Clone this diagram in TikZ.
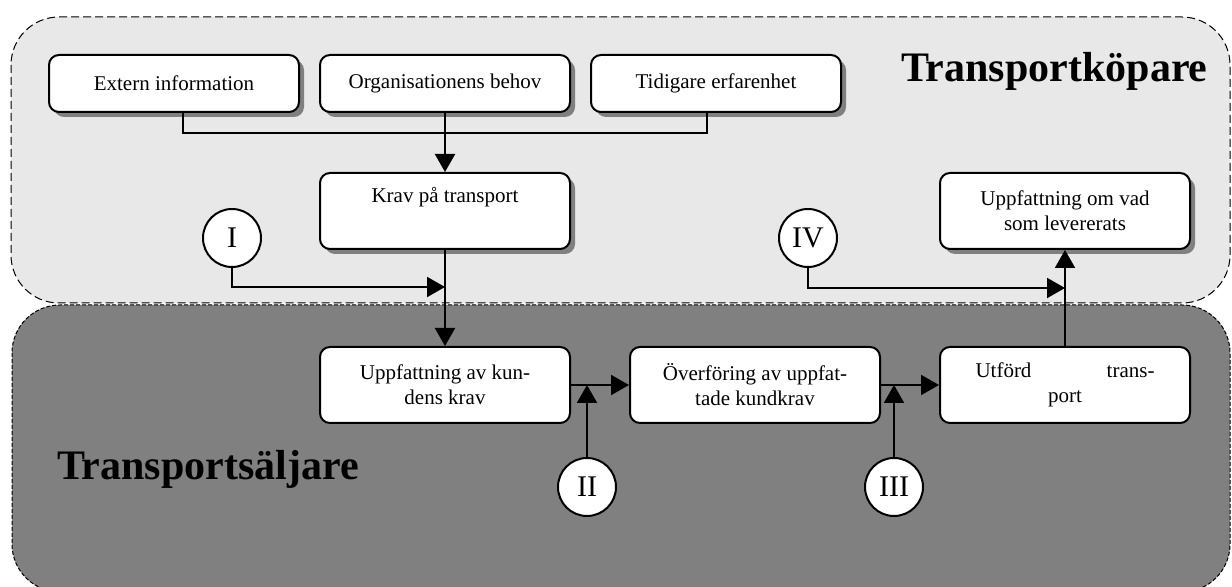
\documentclass[tikz,border=0pt]{standalone}
\usepackage{fontspec}
\setmainfont{Liberation Serif}
\usetikzlibrary{
    positioning,
    arrows.meta,
    shadows
}
\definecolor{LightBand}{RGB}{232,232,232}
\definecolor{DarkBand}{RGB}{128,128,128}

\begin{document}
\begin{tikzpicture}[x=0.5pt, y=-0.5pt,
    band/.style={draw, dash pattern=on 4pt off 2pt, line width=0.5pt, rounded corners=24pt},
    factor/.style={rectangle, draw, line width=1pt, rounded corners=5pt, fill=white, minimum width=125pt, minimum height=28.5pt, align=center, font=\fontsize{10.5}{12.5}\selectfont, drop shadow={shadow xshift=2.5pt, shadow yshift=-2.5pt, fill=DarkBand, opacity=1}},
    stage/.style={factor, minimum height=38pt},
    phase/.style={circle, draw, line width=1pt, fill=white, minimum size=29pt, inner sep=0pt, font=\fontsize{15}{15}\selectfont},
    arrow/.style={line width=1pt, -{Triangle[length=9pt, width=10pt]}},
    title/.style={anchor=base west, font=\fontsize{21}{21}\selectfont\bfseries}
]
\useasboundingbox (0,0) rectangle (1232,587);
\draw[band, fill=LightBand] (11,17) rectangle (1230,303);
\draw[band, fill=DarkBand, dash pattern=on 2pt off 1pt] (12,305) rectangle (1230,592);

\node[title] (kopare) at (894,82) {Transportköpare};
\node[title] (saljare) at (50,480) {Transportsäljare};

\node[factor] (extern) at (174,83.5) {Extern information};
\node[factor, right=9.5pt of extern] (behov) {Organisationens behov};
\node[factor, right=9.5pt of behov] (erfarenhet) {Tidigare erfarenhet};
\node[stage, below=29.5pt of behov] (krav) {Krav på transport\\\strut};
\node[stage, below=48pt of krav] (uppfkund) {Uppfattning av kun-\\dens krav};
\node[stage, right=29pt of uppfkund] (overforing) {Överföring av uppfat-\\tade kundkrav};
\node[stage, right=29pt of overforing] (utford) {\makebox[89.5pt]{Utförd\hfill trans-}\\port};
\node[stage, above=48pt of utford] (levererat) {Uppfattning om vad\\som levererats};

\node[phase] (fasI) at (232,238) {I};
\node[phase] (fasIV) at (808,238) {IV};
\node[phase] (fasII) at (587,487) {II};
\node[phase] (fasIII) at (894,487) {III};

\draw[line width=1pt] ([xshift=4.5pt]extern.south) -- ++(0,20) -| ([xshift=-4.5pt]erfarenhet.south);
\draw[arrow] (behov) -- (krav);
\draw[arrow] (krav) -- (uppfkund);
\draw[arrow] (fasI) |- ([yshift=-18.5pt]krav.south);
\draw[arrow] (uppfkund) -- (overforing);
\draw[arrow] (overforing) -- (utford);
\draw[arrow] (fasII) -- (fasII |- uppfkund.east);
\draw[arrow] (fasIII) -- (fasIII |- overforing.east);
\draw[arrow] (utford) -- (levererat);
\draw[arrow] (fasIV) |- ([yshift=-19pt]levererat.south);
\end{tikzpicture}
\end{document}
